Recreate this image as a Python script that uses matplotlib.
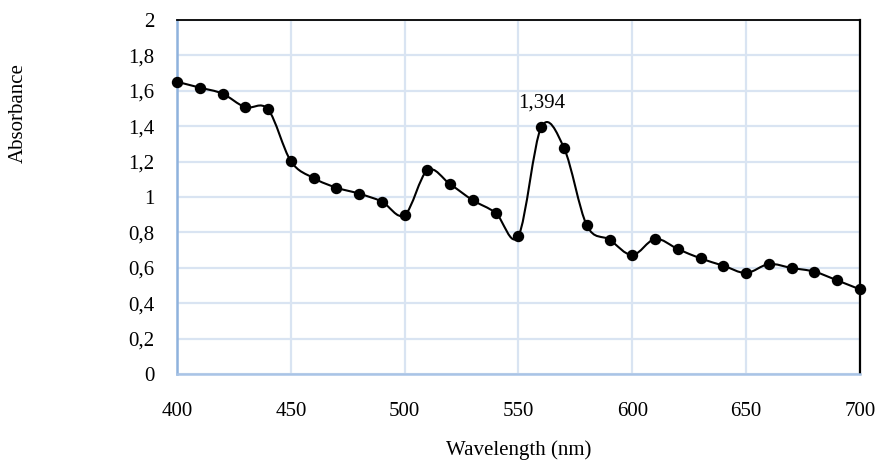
import numpy as np
import matplotlib.pyplot as plt
from matplotlib.path import Path
from matplotlib.patches import PathPatch
from matplotlib.ticker import FuncFormatter, MultipleLocator

plt.rcParams['font.family'] = ['Liberation Serif', 'DejaVu Serif']

# absorbance spectrum
wavelength = [400, 410, 420, 430, 440, 450, 460, 470, 480, 490,
              500, 510, 520, 530, 540, 550, 560, 570, 580, 590,
              600, 610, 620, 630, 640, 650, 660, 670, 680, 690, 700]
absorbance = [1.651, 1.618, 1.584, 1.507, 1.495, 1.203, 1.107, 1.053, 1.019, 0.974,
              0.898, 1.151, 1.072, 0.981, 0.910, 0.781, 1.394, 1.277, 0.840, 0.759,
              0.672, 0.763, 0.706, 0.653, 0.612, 0.571, 0.621, 0.599, 0.578, 0.529, 0.478]
peak_label = '1,394'

x = np.array(wavelength, dtype=float)
y = np.array(absorbance, dtype=float)

fig = plt.figure(figsize=(8.77, 4.63), dpi=100)
ax = fig.add_axes([0.2018, 0.1922, 0.7788, 0.7646])

# smoothed line like the spreadsheet one (catmull-rom as bezier segments)
verts = [(x[0], y[0])]
codes = [Path.MOVETO]
n = len(x)
for i in range(n - 1):
    p0 = (x[max(i - 1, 0)], y[max(i - 1, 0)])
    p1 = (x[i], y[i])
    p2 = (x[i + 1], y[i + 1])
    p3 = (x[min(i + 2, n - 1)], y[min(i + 2, n - 1)])
    c1 = (p1[0] + (p2[0] - p0[0]) / 6, p1[1] + (p2[1] - p0[1]) / 6)
    c2 = (p2[0] - (p3[0] - p1[0]) / 6, p2[1] - (p3[1] - p1[1]) / 6)
    verts += [c1, c2, p2]
    codes += [Path.CURVE4] * 3
ax.add_patch(PathPatch(Path(verts, codes), facecolor='none', edgecolor='black',
                       lw=1.5, zorder=3))
ax.plot(x, y, 'o', color='black', markersize=7.2, zorder=4, clip_on=False)

ax.annotate(peak_label, (x[16], y[16]), xytext=(0, 14.5), textcoords='offset points',
            ha='center', va='baseline', fontsize=15)

ax.set_xlim(400, 700)
ax.set_ylim(0, 2)
ax.xaxis.set_major_locator(MultipleLocator(50))
ax.yaxis.set_major_locator(MultipleLocator(0.2))
ax.yaxis.set_major_formatter(FuncFormatter(lambda v, p: ('%g' % round(v, 1)).replace('.', ',')))
ax.grid(True, color='#d9e4f2', lw=1.6)
ax.set_axisbelow(True)
ax.tick_params(length=0, labelsize=15)
ax.tick_params(axis='x', pad=20)
ax.tick_params(axis='y', pad=16)

ax.spines['left'].set_color('#8fb2dd')
ax.spines['bottom'].set_color('#a9c4e6')
ax.spines['left'].set_linewidth(1.8)
ax.spines['bottom'].set_linewidth(1.8)
ax.spines['top'].set_color('black')
ax.spines['right'].set_color('black')
ax.spines['top'].set_linewidth(1.3)
ax.spines['right'].set_linewidth(1.6)

fig.text(519 / 877, 1 - 455 / 463, 'Wavelength (nm)', ha='center', va='baseline', fontsize=15)
fig.text(18 / 877, 1 - 113 / 463, 'Absorbance', ha='center', va='center',
         rotation=90, fontsize=15)

fig.savefig('out.png', dpi=100)
